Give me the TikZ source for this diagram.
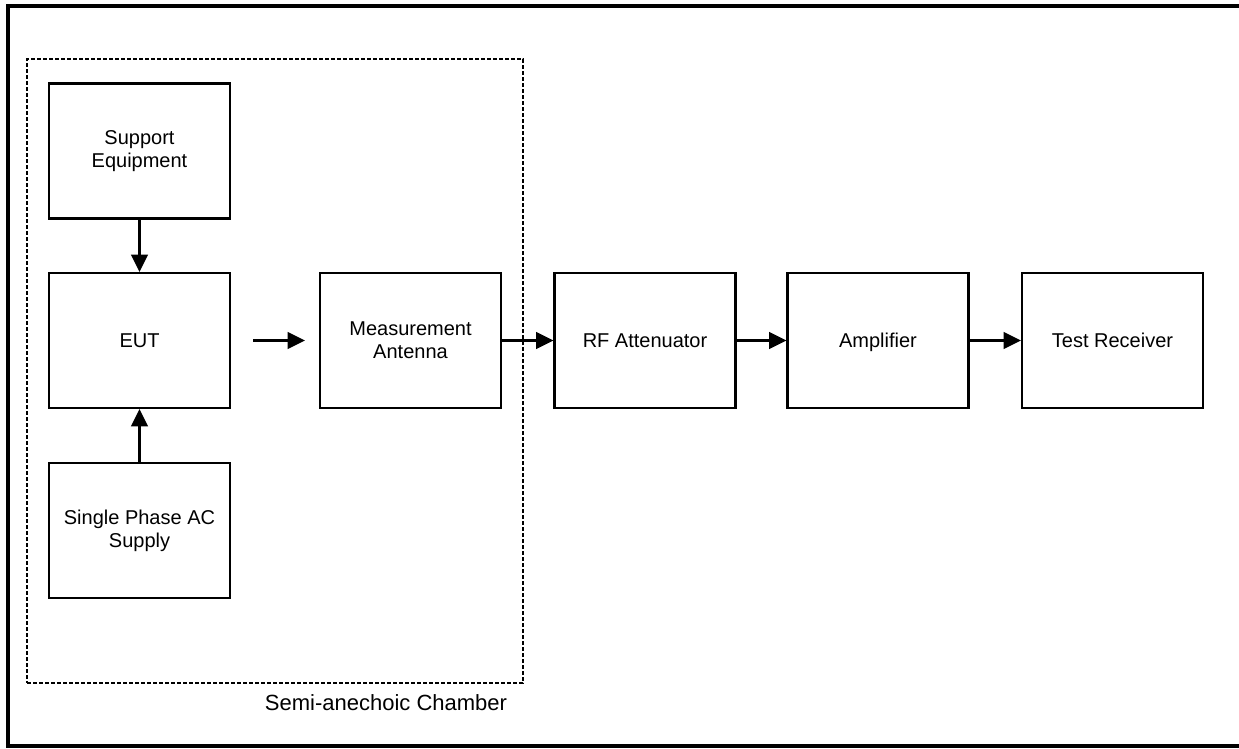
\documentclass[tikz,border=0pt]{standalone}
\usepackage{fontspec}
\setmainfont{Liberation Sans}
\usetikzlibrary{arrows.meta}
\begin{document}
\begin{tikzpicture}[x=0.75pt,y=-0.75pt,
  blk/.style={draw,line width=1.6pt,minimum width=135.75pt,minimum height=101.25pt,
    inner sep=0pt,align=center,font=\fontsize{15}{17.5}\selectfont},
  arr/.style={line width=1.6pt,-{Triangle[length=13pt,width=12.5pt]}},
  chamberbox/.style={draw,line width=1.5pt,dash pattern=on 3pt off 1.5pt,
    minimum width=372pt,minimum height=468pt,inner sep=0pt}]
\useasboundingbox (0,0) rectangle (1239,749);
\coordinate (btl) at (8,6);
\coordinate (bbl) at (8,746);
\coordinate (btr) at (1245,6);
\coordinate (bbr) at (1245,746);
\draw[line width=3pt] (btr) -- (btl) -- (bbl) -- (bbr);
\node[chamberbox] (chamber) at (275,371) {};
\node[anchor=base,font=\fontsize{16.5}{19}\selectfont] (chlabel) at (386,710) {Semi-anechoic Chamber};
\node[blk] (sup) at (139.5,151) {Support\\Equipment};
\node[blk] (eut) at (139.5,340.5) {EUT};
\node[blk] (acs) at (139.5,530.5) {Single Phase AC\\Supply};
\node[blk] (meas) at (410.5,340.5) {Measurement\\Antenna};
\node[blk] (rf) at (645,340.5) {RF Attenuator};
\node[blk,text depth=0pt] (amp) at (878,340.5) {Amplifier};
\node[blk] (tr) at (1112.5,340.5) {Test Receiver};
\draw[arr] (sup) -- (eut);
\draw[arr] (acs) -- (eut);
\draw[arr,shorten <=16.5pt,shorten >=10.5pt] (eut.east) -- (meas.west);
\draw[arr] (meas) -- (rf);
\draw[arr] (rf) -- (amp);
\draw[arr] (amp) -- (tr);
\end{tikzpicture}
\end{document}
